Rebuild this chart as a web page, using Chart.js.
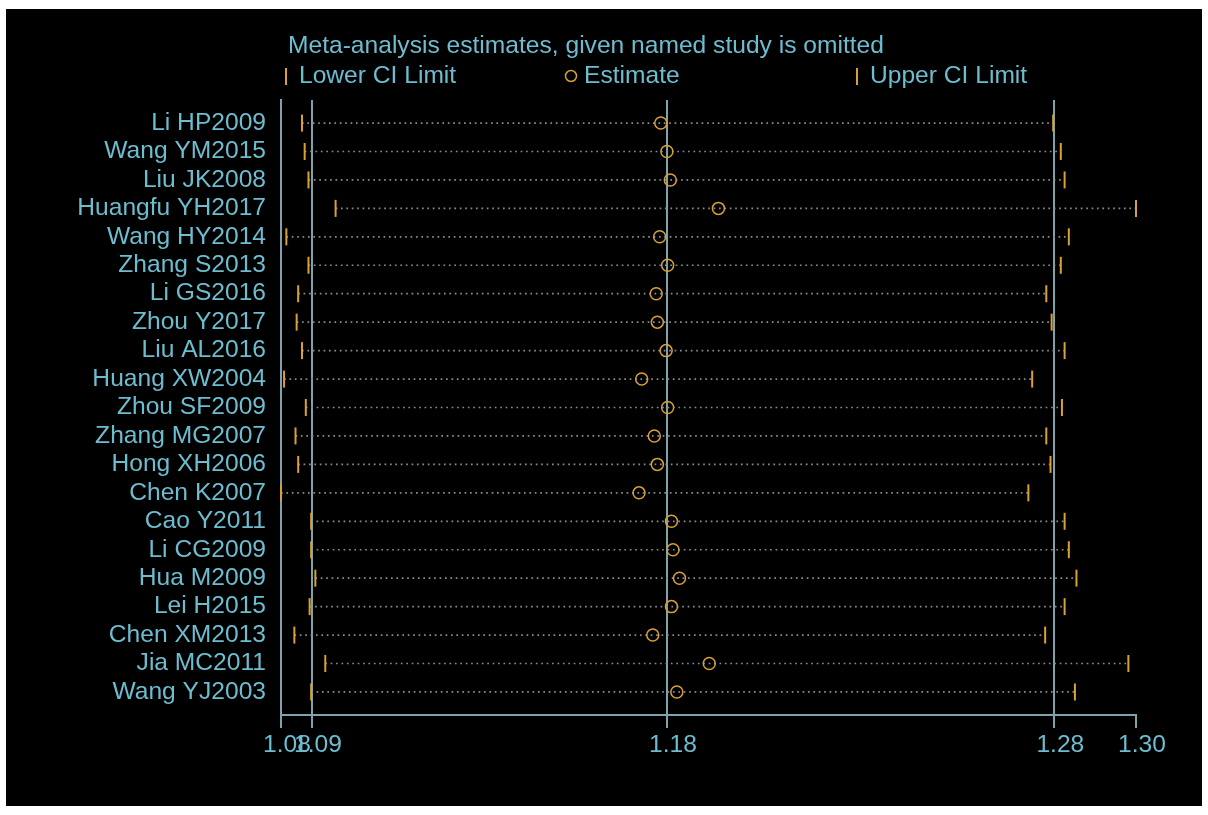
<!DOCTYPE html>
<html>
<head>
<meta charset="utf-8">
<script src="https://cdn.jsdelivr.net/npm/chart.js@4/dist/chart.umd.min.js"></script>
<style>
  html, body { margin: 0; padding: 0; background: #ffffff; }
  #frame { position: absolute; left: 6px; top: 9px; width: 1196px; height: 797px; background: #000000; }
  canvas { display: block; }
</style>
</head>
<body>
<div id="frame"><canvas id="c" width="1196" height="797"></canvas></div>
<script>
// Leave-one-out influence analysis: pooled estimate with each study omitted
const studies = [
  'Li HP2009', 'Wang YM2015', 'Liu JK2008', 'Huangfu YH2017', 'Wang HY2014',
  'Zhang S2013', 'Li GS2016', 'Zhou Y2017', 'Liu AL2016', 'Huang XW2004',
  'Zhou SF2009', 'Zhang MG2007', 'Hong XH2006', 'Chen K2007', 'Cao Y2011',
  'Li CG2009', 'Hua M2009', 'Lei H2015', 'Chen XM2013', 'Jia MC2011', 'Wang YJ2003'
];
const lowerCI = [
  1.0855, 1.0862, 1.0872, 1.0943, 1.0814, 1.0872, 1.0845, 1.0841, 1.0855, 1.0808,
  1.0865, 1.0838, 1.0845, 1.0800, 1.0879, 1.0879, 1.0890, 1.0875, 1.0835, 1.0916, 1.0879
];
const estimate = [
  1.1795, 1.1811, 1.1820, 1.1946, 1.1792, 1.1813, 1.1783, 1.1786, 1.1809, 1.1745,
  1.1813, 1.1778, 1.1786, 1.1738, 1.1823, 1.1827, 1.1844, 1.1823, 1.1774, 1.1922, 1.1837
];
const upperCI = [
  1.2823, 1.2843, 1.2853, 1.3040, 1.2864, 1.2843, 1.2805, 1.2819, 1.2853, 1.2768,
  1.2846, 1.2805, 1.2816, 1.2758, 1.2853, 1.2864, 1.2884, 1.2853, 1.2802, 1.3020, 1.2880
];
// axis ticks: smallest lower limit, pooled lower limit, pooled estimate, pooled upper limit, largest upper limit
const xTickValues = [1.0800, 1.0881, 1.1811, 1.2826, 1.3040];
const xTickLabels = ['1.08', '1.09', '1.18', '1.28', '1.30'];

const TEXT = '#6dbdd1';
const RULE = '#7fa3ab';
const MARK = '#d9a035';
const DOTS = '#858d8f';
const FONT = '"Liberation Sans", Arial, sans-serif';
const FONT_SIZE = 24.6;

const rowPoints = arr => arr.map((v, i) => ({ x: v, y: i + 1 }));

const rangeSets = studies.map((s, i) => ({
  type: 'line',
  label: s,
  data: [{ x: lowerCI[i], y: i + 1 }, { x: upperCI[i], y: i + 1 }],
  borderColor: DOTS,
  borderWidth: 1.7,
  borderDash: [1.7, 3.7],
  pointRadius: 0,
  clip: false,
  order: 5
}));

const markerSets = [
  {
    type: 'scatter', label: 'Lower CI Limit', data: rowPoints(lowerCI),
    pointStyle: 'line', rotation: 90, pointRadius: 8.5,
    borderColor: MARK, borderWidth: 2, clip: false, order: 1
  },
  {
    type: 'scatter', label: 'Estimate', data: rowPoints(estimate),
    pointStyle: 'circle', pointRadius: 6, backgroundColor: 'rgba(0,0,0,0)',
    borderColor: MARK, borderWidth: 1.5, clip: false, order: 1
  },
  {
    type: 'scatter', label: 'Upper CI Limit', data: rowPoints(upperCI),
    pointStyle: 'line', rotation: 90, pointRadius: 8.5,
    borderColor: MARK, borderWidth: 2, clip: false, order: 1
  }
];

// heading and key above the plot
const headerPlugin = {
  id: 'header',
  afterDraw(chart) {
    const ctx = chart.ctx;
    ctx.save();
    ctx.font = FONT_SIZE + 'px ' + FONT;
    ctx.fillStyle = TEXT;
    ctx.textBaseline = 'alphabetic';
    ctx.textAlign = 'left';
    ctx.fillText('Meta-analysis estimates, given named study is omitted', 282, 44);

    ctx.strokeStyle = MARK;
    ctx.lineWidth = 2;
    const tick = x => { ctx.beginPath(); ctx.moveTo(x, 59); ctx.lineTo(x, 76); ctx.stroke(); };
    tick(280);
    ctx.fillText('Lower CI Limit', 293, 74);
    ctx.lineWidth = 1.5;
    ctx.beginPath(); ctx.arc(565, 67, 5.5, 0, Math.PI * 2); ctx.stroke();
    ctx.fillText('Estimate', 578, 74);
    ctx.lineWidth = 2;
    tick(851);
    ctx.fillText('Upper CI Limit', 864, 74);
    ctx.restore();
  }
};

new Chart(document.getElementById('c'), {
  data: { datasets: [...rangeSets, ...markerSets] },
  options: {
    responsive: false,
    animation: false,
    events: [],
    layout: { padding: { top: 91, right: 66, bottom: 41, left: 0 } },
    plugins: { legend: { display: false }, tooltip: { enabled: false }, title: { display: false } },
    scales: {
      x: {
        type: 'linear',
        min: xTickValues[0],
        max: xTickValues[xTickValues.length - 1],
        afterBuildTicks: scale => { scale.ticks = xTickValues.map(v => ({ value: v })); },
        afterFit: scale => { scale.height = 50; },
        ticks: {
          callback: (v, i) => xTickLabels[i],
          color: TEXT,
          font: { family: FONT, size: FONT_SIZE },
          labelOffset: 6,
          padding: 2,
          maxRotation: 0,
          autoSkip: false
        },
        grid: {
          color: c => (c.index === xTickValues.length - 1 ? 'rgba(0,0,0,0)' : RULE),
          tickColor: RULE,
          lineWidth: 2,
          tickLength: 13
        },
        border: { display: true, color: RULE, width: 2 }
      },
      y: {
        type: 'linear',
        reverse: true,
        min: 0.19,
        max: 21.81,
        afterBuildTicks: scale => { scale.ticks = studies.map((s, i) => ({ value: i + 1 })); },
        afterFit: scale => { scale.width = 275; },
        ticks: {
          callback: v => studies[v - 1],
          color: TEXT,
          font: { family: FONT, size: FONT_SIZE },
          padding: 15,
          autoSkip: false
        },
        grid: { display: false, drawTicks: false },
        border: { display: true, color: RULE, width: 2 }
      }
    }
  },
  plugins: [headerPlugin]
});
</script>
</body>
</html>
